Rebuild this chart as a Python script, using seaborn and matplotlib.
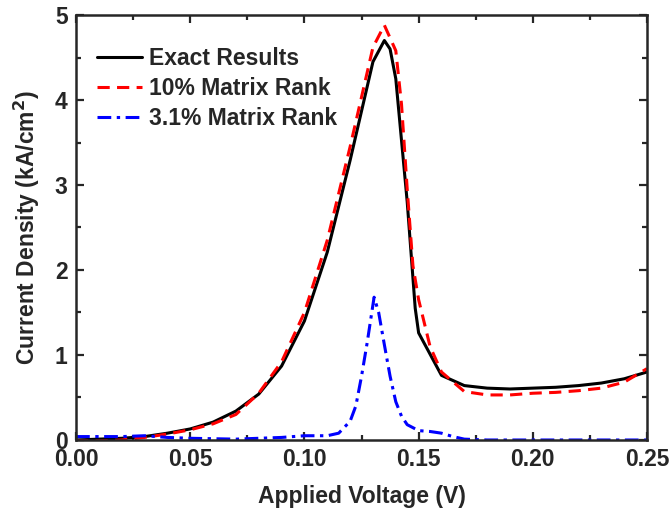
import numpy as np
import pandas as pd
import seaborn as sns
import matplotlib.pyplot as plt
from matplotlib.ticker import MultipleLocator

## data ##
exact_v = [0.00, 0.01, 0.02, 0.03, 0.04, 0.05, 0.06, 0.07, 0.08, 0.09, 0.10,
           0.11, 0.12, 0.13, 0.135, 0.1375, 0.14, 0.145, 0.1485, 0.15, 0.16,
           0.17, 0.18, 0.19, 0.20, 0.21, 0.22, 0.23, 0.24, 0.25]
exact_j = [0.00, 0.01, 0.02, 0.04, 0.08, 0.13, 0.21, 0.34, 0.54, 0.87, 1.40,
           2.21, 3.29, 4.45, 4.70, 4.60, 4.25, 2.80, 1.55, 1.26, 0.76,
           0.64, 0.61, 0.60, 0.61, 0.62, 0.64, 0.67, 0.72, 0.80]

rank10_v = [0.00, 0.01, 0.02, 0.03, 0.04, 0.05, 0.06, 0.07, 0.08, 0.09, 0.10,
            0.11, 0.12, 0.13, 0.135, 0.14, 0.1425, 0.145, 0.1475, 0.15, 0.155,
            0.16, 0.17, 0.18, 0.19, 0.20, 0.21, 0.22, 0.23, 0.24, 0.25]
rank10_j = [-0.01, -0.01, 0.00, 0.03, 0.07, 0.12, 0.19, 0.30, 0.55, 0.92, 1.50,
            2.35, 3.45, 4.62, 4.88, 4.58, 3.95, 2.95, 2.05, 1.65, 1.10,
            0.80, 0.57, 0.53, 0.53, 0.55, 0.56, 0.58, 0.61, 0.68, 0.84]

rank31_v = [0.00, 0.01, 0.02, 0.03, 0.04, 0.05, 0.06, 0.07, 0.08, 0.09, 0.10,
            0.11, 0.115, 0.12, 0.1225, 0.125, 0.1275, 0.1305, 0.1325, 0.135,
            0.1375, 0.14, 0.1425, 0.145, 0.15, 0.155, 0.16, 0.165, 0.17, 0.18,
            0.19, 0.20, 0.21, 0.22, 0.23, 0.24, 0.25]
rank31_j = [0.04, 0.04, 0.04, 0.05, 0.03, 0.02, 0.015, 0.01, 0.02, 0.03, 0.05,
            0.05, 0.08, 0.22, 0.40, 0.75, 1.15, 1.68, 1.50, 1.12,
            0.75, 0.45, 0.28, 0.18, 0.11, 0.10, 0.08, 0.04, 0.01, 0.0,
            0.0, 0.0, 0.0, 0.0, 0.0, 0.0, 0.0]

series = [
    ('Exact Results', exact_v, exact_j, 'black', '-'),
    ('10% Matrix Rank', rank10_v, rank10_j, '#ff0000', (0, (4, 2.4))),
    ('3.1% Matrix Rank', rank31_v, rank31_j, '#0000ff', (0, (4.5, 1.8, 1.1, 1.8))),
]

sns.set_style('ticks')
plt.rcParams['font.family'] = ['Liberation Sans', 'DejaVu Sans']
plt.rcParams['font.weight'] = 'bold'
plt.rcParams['axes.labelweight'] = 'bold'

fig = plt.figure(figsize=(6.71, 5.14), dpi=100)
ax = fig.add_axes([0.1133, 0.144, 0.851, 0.8268])

for name, v, j, col, ls in series:
    df = pd.DataFrame({'v': v, 'j': j})
    sns.lineplot(data=df, x='v', y='j', ax=ax, color=col, linestyle=ls,
                 linewidth=2.2, estimator=None, sort=True, label=name)

ax.set_xlim(0, 0.25)
ax.set_ylim(0, 5)
ax.xaxis.set_major_locator(MultipleLocator(0.05))
ax.xaxis.set_minor_locator(MultipleLocator(0.025))
ax.yaxis.set_major_locator(MultipleLocator(1))
ax.yaxis.set_minor_locator(MultipleLocator(0.5))
ax.set_xticklabels([f'{t:.2f}' for t in ax.get_xticks()])
ax.set_yticklabels([f'{t:.0f}' for t in ax.get_yticks()])

ax.tick_params(which='both', direction='in', top=True, right=True, width=1.6,
               labelsize=16.5)
ax.tick_params(axis='x', pad=6)
ax.tick_params(axis='y', pad=6)
ax.tick_params(which='major', length=6)
ax.tick_params(which='minor', length=3.5)
for sp in ax.spines.values():
    sp.set_linewidth(1.8)
    sp.set_visible(True)

ax.set_xlabel('Applied Voltage (V)', fontsize=16.5, labelpad=10)
ax.set_ylabel('Current Density (kA/cm$^\\mathbf{2}$)', fontsize=16.5, labelpad=9)

leg = ax.legend(loc='upper left', bbox_to_anchor=(0.0, 0.973), frameon=False,
                fontsize=16.5, handlelength=2.0, handletextpad=0.3,
                labelspacing=0.3, borderaxespad=0.5)

fig.savefig('out.png', dpi=100)
